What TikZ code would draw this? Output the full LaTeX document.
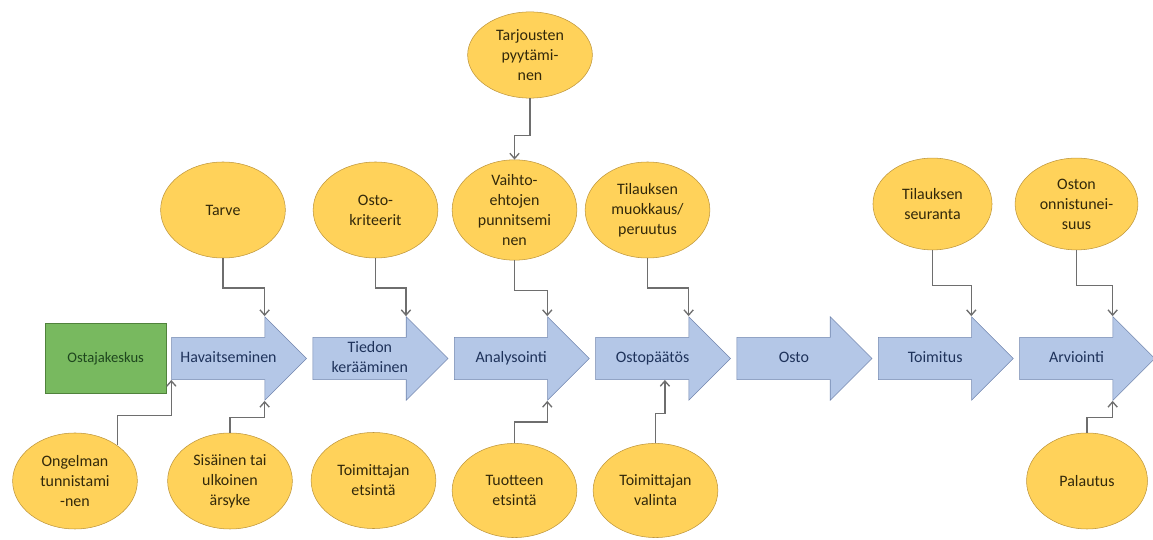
\documentclass[tikz,border=0pt]{standalone}
\usepackage{fontspec}
\setmainfont{Carlito}
\usetikzlibrary{arrows.meta,shapes.geometric,shapes.arrows,positioning}
\definecolor{ellyellow} {RGB}{255,210,90}
\definecolor{ellborder} {RGB}{190,150,60}
\definecolor{elltext}   {RGB}{50,40,10}
\definecolor{stepblue}  {RGB}{180,199,231}
\definecolor{stepborder}{RGB}{115,135,175}
\definecolor{steptext}  {RGB}{30,50,90}
\definecolor{hubgreen}  {RGB}{120,185,95}
\definecolor{hubborder} {RGB}{80,130,60}
\definecolor{hubtext}   {RGB}{30,70,30}
\definecolor{linkgray}  {RGB}{110,110,110}
\tikzset{
  ellbox/.style ={ellipse, draw=ellborder, fill=ellyellow, text=elltext,
                  minimum width=3.3cm, minimum height=2.54cm, align=center,
                  font=\fontsize{12}{15}\selectfont, inner sep=0pt},
  stepbox/.style={single arrow, draw=stepborder, fill=stepblue, text=steptext,
                  single arrow head extend=0.543cm, single arrow tip angle=90,
                  minimum height=3.572cm, text height=15.5pt, text depth=10pt,
                  inner ysep=3pt, inner xsep=2pt, align=center,
                  font=\fontsize{12}{15}\selectfont},
  hubbox/.style ={draw=hubborder, fill=hubgreen, text=hubtext,
                  minimum width=3.2cm, minimum height=1.85cm,
                  font=\fontsize{11}{13}\selectfont},
  link/.style   ={draw=linkgray, line width=1pt,
                  -{Straight Barb[length=4pt,width=7pt]}},
}
\begin{document}
\begin{tikzpicture}
  \useasboundingbox (0,0) rectangle (30.506,-14.261);
  %% process arrows
  \node[stepbox] (hav) at (6.046,-9.485) {Havaitseminen};
  \node[stepbox, right=0.15cm of hav, text height=23.25pt, text depth=2.25pt] (tie) {Tiedon\\kerääminen};
  \node[stepbox, right=0.15cm of tie] (ana) {Analysointi};
  \node[stepbox, right=0.15cm of ana] (ost) {Ostopäätös};
  \node[stepbox, right=0.15cm of ost] (osto) {Osto};
  \node[stepbox, right=0.15cm of osto] (toi) {Toimitus};
  \node[stepbox, right=0.15cm of toi] (arv) {Arviointi};
  \node[hubbox, left=0.13cm of hav] (hub) {Ostajakeskus};
  %% upper ellipses
  \node[ellbox] (tarve) at (5.900,-5.556) {Tarve};
  \node[ellbox] (kriteeri) at (9.935,-5.556) {Osto-\\kriteerit};
  \node[ellbox] (vaihto) at (13.613,-5.556) {Vaihto-\\ehtojen\\punnitsemi\\nen};
  \node[ellbox] (muokkaus) at (17.132,-5.556) {Tilauksen\\muokkaus/\\peruutus};
  \node[ellbox, minimum width=3.15cm, minimum height=2.43cm] (seuranta) at (24.672,-5.397) {Tilauksen\\seuranta};
  \node[ellbox, minimum width=3.25cm, minimum height=2.43cm] (onnistuminen) at (28.482,-5.397) {Oston\\onnistunei-\\suus};
  \node[ellbox, minimum height=2.28cm] (tarjous) at (14.023,-1.455) {Tarjousten\\pyytämi-\\nen};
  %% lower ellipses
  \node[ellbox] (ongelma) at (1.984,-12.726) {Ongelman\\tunnistami\\-nen};
  \node[ellbox] (arsyke) at (6.085,-12.726) {Sisäinen tai\\ulkoinen\\ärsyke};
  \node[ellbox] (etsinta) at (9.882,-12.713) {Toimittajan\\etsintä};
  \node[ellbox, minimum height=2.49cm] (tuote) at (13.613,-12.977) {Tuotteen\\etsintä};
  \node[ellbox, minimum height=2.49cm] (valinta) at (17.343,-12.977) {Toimittajan\\valinta};
  \node[ellbox, minimum width=3.2cm] (palautus) at (28.76,-12.726) {Palautus};
  %% connectors
  \draw[link] (tarve.south) -- ++(0,-0.79) -| (hav.before tip);
  \draw[link] (kriteeri.south) -- ++(0,-0.79) -| (tie.before tip);
  \draw[link] (vaihto.south) -- ++(0,-0.79) -| (ana.before tip);
  \draw[link] (muokkaus.south) -- ++(0,-0.79) -| (ost.before tip);
  \draw[link] (seuranta.south) -- ++(0,-0.93) -| (toi.before tip);
  \draw[link] (onnistuminen.south) -- ++(0,-0.93) -| (arv.before tip);
  \draw[link] (tarjous.south) -- ++(0,-0.98) -| (vaihto.north);
  \draw[link] (ongelma.40) -- ++(0,0.79) -| (hav.before tail);
  \draw[link] (arsyke.north) -- ++(0,0.4) -| (hav.after tip);
  \draw[link] (tuote.north) -- ++(0,0.56) -| (ana.after tip);
  \draw[link] (valinta.north) -- ++(0,0.79) -| (ost.-60);
  \draw[link] (palautus.north) -- ++(0,0.4) -| (arv.after tip);
\end{tikzpicture}
\end{document}
